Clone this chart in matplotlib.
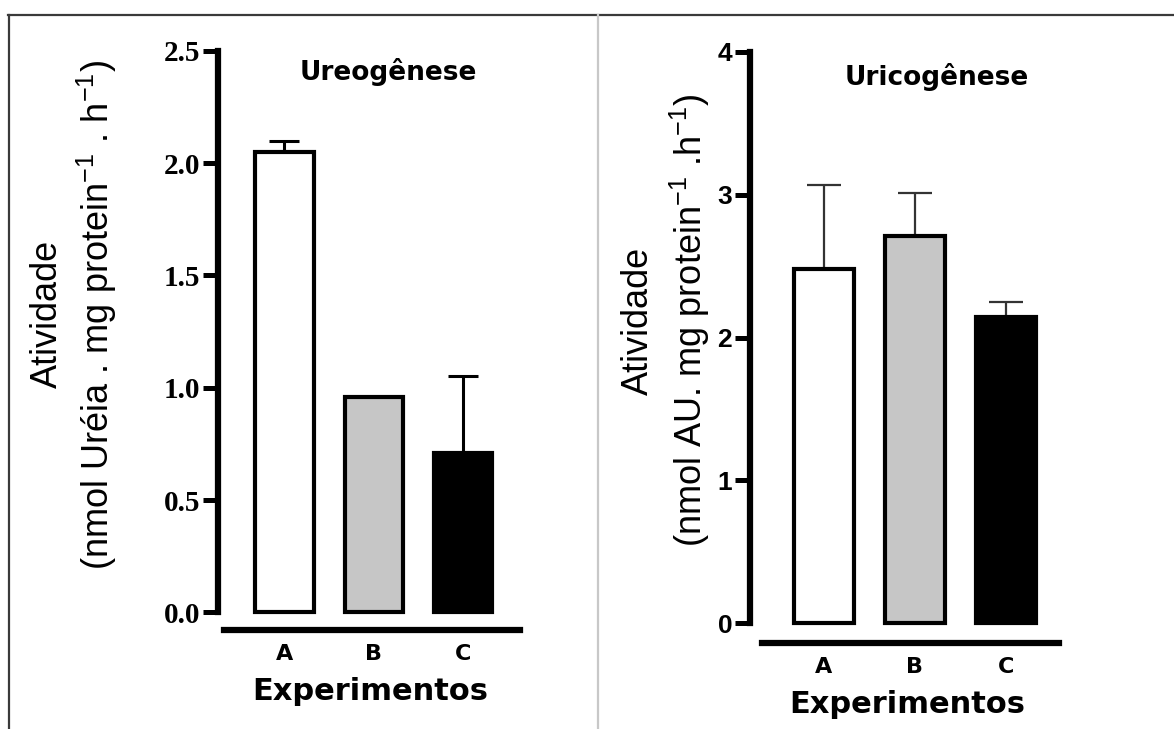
import matplotlib
matplotlib.use("Agg")
import matplotlib.pyplot as plt
from matplotlib.lines import Line2D
import numpy as np

# ---------------- data ----------------
categories = ["A", "B", "C"]
ureo_mean = [2.05, 0.96, 0.71]
ureo_err = [0.05, 0.0, 0.34]
uric_mean = [2.48, 2.71, 2.14]
uric_err = [0.59, 0.30, 0.11]
ureo_yticks = [0.0, 0.5, 1.0, 1.5, 2.0, 2.5]
uric_yticks = [0, 1, 2, 3, 4]
bar_colors = ["white", "#c6c6c6", "black"]

plt.rcParams["font.family"] = ["Liberation Sans", "DejaVu Sans"]
plt.rcParams["mathtext.fontset"] = "custom"
plt.rcParams["mathtext.rm"] = "Liberation Sans"
plt.rcParams["mathtext.it"] = "Liberation Sans:italic"
plt.rcParams["mathtext.bf"] = "Liberation Sans:bold"

W, H = 1174, 729
fig = plt.figure(figsize=(W / 100, H / 100), dpi=100)
fig.patch.set_facecolor("white")


def fx(px):
    return px / W


def fy(py):
    return 1 - py / H


PT = 0.72  # points per pixel at dpi 100


def make_panel(left, right, y0, ytop, xlim, xbounds, outward_px,
               means, errs, yticks, ylim, ticklabels, tickfont, capsize_px,
               elw, ecolor, width):
    ax = fig.add_axes([fx(left), fy(y0), fx(right) - fx(left), fy(ytop) - fy(y0)])
    x = np.arange(len(categories))
    ax.bar(x, means, width=width, color=bar_colors, edgecolor="black",
           linewidth=3.0, clip_on=False, zorder=3)
    ax.errorbar(x, means, yerr=[np.zeros(len(errs)), errs], fmt="none",
                ecolor=ecolor, elinewidth=elw, capsize=capsize_px * PT,
                capthick=elw, zorder=2, clip_on=False)
    ax.set_xlim(*xlim)
    ax.set_ylim(*ylim)
    for s in ["top", "right"]:
        ax.spines[s].set_visible(False)
    ax.spines["left"].set_linewidth(4.5)
    ax.spines["bottom"].set_linewidth(4.5)
    ax.spines["bottom"].set_position(("outward", outward_px * PT))
    ax.spines["bottom"].set_bounds(*xbounds)
    ax.set_yticks(yticks)
    ax.set_yticklabels(ticklabels, **tickfont)
    ax.set_xticks(x)
    ax.set_xticklabels(categories, family="DejaVu Sans", fontweight="bold",
                       fontsize=16)
    ax.tick_params(axis="y", direction="out", length=10.8, width=3.6, pad=2)
    ax.tick_params(axis="x", length=0, pad=10)
    ax.patch.set_alpha(0)
    return ax


ax1 = make_panel(218, 526, 612.4, 50.7, (-0.743, 2.7), (-0.676, 2.631), 17.6,
                 ureo_mean, ureo_err, ureo_yticks, (0, 2.5),
                 ["%.1f" % v for v in ureo_yticks],
                 dict(family="Liberation Serif", fontweight="bold", fontsize=21),
                 15, 2.2, "black", 0.65)
ax2 = make_panel(750, 1069.7, 623.3, 51.7, (-0.813, 2.7), (-0.681, 2.582), 19.4,
                 uric_mean, uric_err, uric_yticks, (0, 4),
                 ["%d" % v for v in uric_yticks],
                 dict(family="Liberation Sans", fontweight="bold", fontsize=19),
                 17, 1.6, "#333333", 0.66)

# titles
fig.text(fx(388), fy(80), "Ureogênese", ha="center", va="baseline",
         family="DejaVu Sans", fontweight="bold", fontsize=19)
fig.text(fx(937), fy(85), "Uricogênese", ha="center", va="baseline",
         family="DejaVu Sans", fontweight="bold", fontsize=19)

# x labels
fig.text(fx(370), fy(700), "Experimentos", ha="center", va="baseline",
         family="DejaVu Sans", fontweight="bold", fontsize=22)
fig.text(fx(907), fy(713), "Experimentos", ha="center", va="baseline",
         family="DejaVu Sans", fontweight="bold", fontsize=22)

# y labels
fig.text(fx(47), fy(314), "Atividade", rotation=90, ha="center", va="center",
         fontsize=26)
fig.text(fx(97), fy(315), r"(nmol Uréia . mg protein$^{-1}$ . h$^{-1}$)",
         rotation=90, ha="center", va="center", fontsize=26)
fig.text(fx(638), fy(321), "Atividade", rotation=90, ha="center", va="center",
         fontsize=26)
fig.text(fx(690), fy(320), r"(nmol AU. mg protein$^{-1}$ .h$^{-1}$)",
         rotation=90, ha="center", va="center", fontsize=26)

# frame lines
fig.add_artist(Line2D([fx(8), 1], [fy(15), fy(15)], color="#3a3a3a", lw=1.6))
fig.add_artist(Line2D([fx(8.5), fx(8.5)], [fy(15), 0], color="#3a3a3a", lw=1.6))
fig.add_artist(Line2D([fx(598), fx(598)], [fy(15), 0], color="#c8c8c8", lw=1.6))

fig.savefig("out.png", dpi=100, facecolor="white")
